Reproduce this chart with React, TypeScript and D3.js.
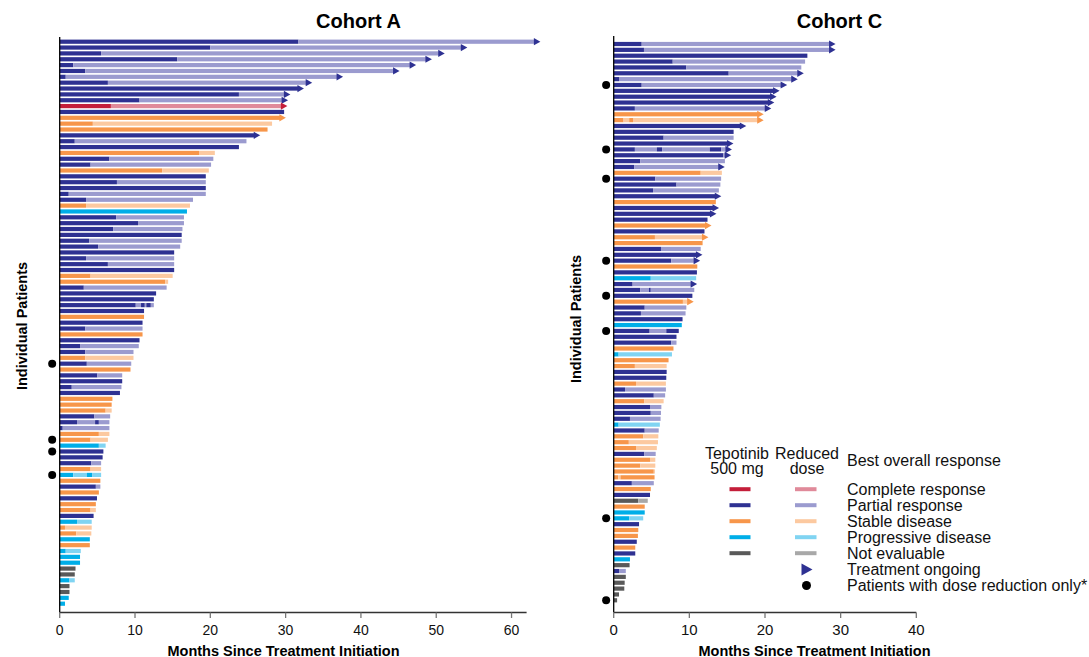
import React from 'react';
import * as d3 from 'd3';

const W = 1089;
const H = 657;
const FONT = "Arial, 'Liberation Sans', Helvetica, sans-serif";

// [full dose, reduced dose]
const responseColors: Record<string, [string, string]> = {
  CR: ['#c41e3a', '#e08a9a'],
  PR: ['#2e3192', '#9b9bcf'],
  SD: ['#f7964a', '#fcc9a0'],
  PD: ['#00aee8', '#80d4f2'],
  NE: ['#595959', '#a8a8a8'],
};

const legendCategories = ['CR', 'PR', 'SD', 'PD', 'NE'];
const legendLabels = [
  'Complete response',
  'Partial response',
  'Stable disease',
  'Progressive disease',
  'Not evaluable',
];

// Cohort A: best overall response per patient (top to bottom)
const cohortAResponse = [
  'PR', 'PR', 'PR', 'PR', 'PR', 'PR', 'PR', 'PR', 'PR', 'PR',
  'PR', 'CR', 'PR', 'SD', 'SD', 'SD', 'PR', 'PR', 'PR', 'SD',
  'PR', 'PR', 'SD', 'PR', 'PR', 'PR', 'PR', 'PR', 'SD', 'PD',
  'PR', 'PR', 'PR', 'PR', 'PR', 'PR', 'PR', 'PR', 'PR', 'PR',
  'SD', 'SD', 'PR', 'PR', 'PR', 'PR', 'PR', 'SD', 'PR', 'PR',
  'SD', 'PR', 'PR', 'PR', 'SD', 'PR', 'SD', 'PR', 'PR', 'PR',
  'PR', 'SD', 'SD', 'SD', 'PR', 'PR', 'PR', 'SD', 'SD', 'PD',
  'PR', 'PR', 'PR', 'SD', 'PD', 'SD', 'PR', 'SD', 'PR', 'SD',
  'SD', 'PR', 'PD', 'SD', 'SD', 'PD', 'SD', 'PD', 'PD', 'PD',
  'NE', 'NE', 'PD', 'NE', 'NE', 'PD', 'PD',
];

// months at which dose switches: full -> reduced -> full ... ; last value = end of treatment
const cohortASegments = [
  [31.7, 63.1], [20.0, 53.4], [5.5, 50.4], [15.6, 48.7], [1.8, 46.6],
  [3.4, 44.4], [0.8, 36.9], [6.4, 32.8], [31.7], [23.8, 29.9],
  [10.6, 29.6], [6.8, 29.5], [29.8], [29.3], [4.4, 28.2],
  [27.6], [25.9], [2.0, 24.8], [23.8], [18.5, 20.6],
  [6.6, 20.4], [4.1, 20.1], [13.6, 19.8], [19.4], [7.6, 19.4],
  [19.4], [1.2, 19.4], [3.5, 17.7], [3.5, 17.3], [16.9],
  [7.5, 16.5], [10.4, 16.5], [7.1, 16.3], [16.2], [3.9, 16.2],
  [5.1, 16.0], [15.2], [3.5, 15.2], [6.4, 15.2], [15.2],
  [4.1, 15.0], [14.0, 14.4], [3.2, 14.2], [12.8], [12.5],
  [10.1, 10.8, 11.3, 11.5, 12.1, 12.5], [11.2], [11.2], [11.0], [3.4, 11.0],
  [11.0], [10.6], [2.7, 10.5], [3.4, 9.8], [3.4, 9.8],
  [3.6, 9.5], [9.4], [5.0, 8.3], [8.3], [1.6, 8.2],
  [8.0], [7.0], [6.9], [6.1, 6.9], [4.6, 6.7],
  [2.3, 4.7, 5.2, 6.6], [0.4, 6.6], [5.2, 6.6], [4.1, 6.4], [5.2, 6.1],
  [5.8], [5.7], [4.2, 5.5], [4.1, 5.5], [1.8, 3.6, 4.3, 5.5],
  [5.4], [4.8, 5.4], [5.2], [4.95], [4.8],
  [4.1, 4.8], [4.5], [2.3, 4.25], [0.7, 4.25], [2.2, 4.2],
  [4.0], [4.0], [0.8, 2.8], [2.7], [2.7],
  [2.1], [2.0], [1.3, 2.0], [1.3], [1.3],
  [1.2], [0.7],
];

const cohortAOngoing = [1, 2, 3, 4, 5, 6, 7, 8, 9, 10, 11, 12, 14, 17];
const cohortADoseReductionOnly = [56, 69, 71, 75];
const cohortATicks = [0, 10, 20, 30, 40, 50, 60];

// Cohort C
const cohortCResponse = [
  'PR', 'PR', 'PR', 'PR', 'PR', 'PR', 'PR', 'PR', 'PR', 'PR',
  'PR', 'PR', 'SD', 'SD', 'PR', 'PR', 'PR', 'PR', 'PR', 'PR',
  'PR', 'PR', 'SD', 'PR', 'PR', 'PR', 'PR', 'SD', 'PR', 'PR',
  'PR', 'SD', 'PR', 'SD', 'SD', 'PR', 'PR', 'PR', 'SD', 'PR',
  'PD', 'PR', 'PR', 'PR', 'SD', 'PR', 'PR', 'PR', 'PD', 'PR',
  'PR', 'PR', 'SD', 'PD', 'SD', 'SD', 'PR', 'PR', 'SD', 'PR',
  'PR', 'SD', 'PR', 'PR', 'PR', 'PD', 'PR', 'SD', 'SD', 'SD',
  'PR', 'SD', 'SD', 'SD', 'SD', 'PR', 'SD', 'PR', 'NE', 'SD',
  'PD', 'PD', 'PR', 'SD', 'SD', 'PR', 'SD', 'PR', 'PD', 'NE',
  'PR', 'NE', 'NE', 'NE', 'NE', 'NE',
];

const cohortCSegments = [
  [3.7, 28.6], [4.0, 28.6], [25.6], [7.8, 25.3], [9.6, 24.8],
  [15.2, 24.4], [0.7, 23.6], [3.7, 22.2], [21.2], [20.8],
  [20.5], [2.8, 20.1], [19.1], [1.3, 2.05, 2.55, 19.1], [16.8],
  [15.85], [6.6, 15.85], [15.1], [2.8, 5.7, 6.4, 12.7, 14.2, 14.9], [14.5, 14.8],
  [3.5, 14.7], [2.7, 13.95], [11.5, 14.3], [5.5, 14.2], [8.3, 14.1],
  [5.2, 13.9], [13.5], [13.5], [13.2], [12.85],
  [12.4], [12.2], [12.0], [5.45, 11.8], [11.75],
  [6.25, 11.5], [11.0], [7.6, 10.7], [11.05], [11.0],
  [4.9, 10.9], [2.5, 10.3], [3.5, 4.66, 4.9, 10.65], [10.4], [9.15, 9.85],
  [4.1, 9.6], [3.6, 9.5], [9.1], [9.0], [4.75, 6.95, 8.6],
  [8.3], [7.6, 8.3], [7.9], [0.65, 7.7], [7.25],
  [2.8, 7.0], [7.0], [6.95], [2.95, 6.9], [1.5, 6.9],
  [5.3, 6.8], [4.05, 6.6], [4.8, 6.3], [4.9, 6.25], [2.15, 6.2],
  [0.65, 6.1], [4.1, 5.95], [3.9, 5.9], [2.0, 5.85], [2.95, 5.7],
  [4.05, 5.55], [4.8, 5.5], [3.5, 5.5], [5.3, 5.45], [0.6, 0.9, 5.4],
  [2.4, 5.3], [4.9], [4.8], [3.25, 4.5], [4.1],
  [4.1], [2.05, 3.9], [3.35], [3.25], [3.2],
  [3.05], [2.85], [2.85], [2.15], [2.1],
  [0.7, 1.6], [1.6], [1.45], [1.4], [0.7],
  [0.45],
];

const cohortCOngoing = [1, 2, 6, 7, 8, 9, 10, 11, 12, 13, 14, 15, 18, 19, 20, 22, 27, 29, 30, 32, 34, 37, 38, 42, 45];
const cohortCDoseReductionOnly = [8, 19, 24, 38, 44, 50, 82, 96];
const cohortCTicks = [0, 10, 20, 30, 40];

type PanelProps = {
  title: string;
  titleX: number;
  axisTitleX: number;
  responses: string[];
  segments: number[][];
  ongoing: number[];
  doseReduced: number[];
  ticks: number[];
  xMax: number;
  xRange: [number, number];
  rowRange: [number, number];
  axisTop: number;
  axisY: number;
  ylabelX: number;
  ylabelY: number;
  tickFont: number;
};

function SwimmerPanel(p: PanelProps) {
  const x = d3.scaleLinear().domain([0, p.xMax]).range(p.xRange);
  const y = d3
    .scalePoint<number>()
    .domain(d3.range(p.responses.length))
    .range(p.rowRange);
  const barH = 4.2;
  const x0 = x(0);
  const xEnd = p.xRange[1];

  return (
    <g>
      <text
        x={p.titleX}
        y={27.5}
        textAnchor="middle"
        fontSize={20}
        fontWeight="bold"
        fontFamily={FONT}
      >
        {p.title}
      </text>

      {p.responses.map((r, i) => {
        const cy = y(i) as number;
        const breaks = p.segments[i];
        const cols = responseColors[r];
        const end = breaks[breaks.length - 1];
        return (
          <g key={i}>
            {breaks.map((b, k) => {
              const start = k === 0 ? 0 : breaks[k - 1];
              return (
                <rect
                  key={k}
                  x={x(start)}
                  y={cy - barH / 2}
                  width={Math.max(0, x(b) - x(start))}
                  height={barH}
                  fill={cols[k % 2]}
                />
              );
            })}
            {p.ongoing.includes(i + 1) && (
              <path
                d={`M${x(end) - 1},${cy - 3.6}L${x(end) + 5.5},${cy}L${x(end) - 1},${cy + 3.6}Z`}
                fill={cols[0]}
              />
            )}
            {p.doseReduced.includes(i + 1) && (
              <circle cx={x(-1)} cy={cy} r={4} fill="#000" />
            )}
          </g>
        );
      })}

      {/* y axis line */}
      <line x1={x0} x2={x0} y1={p.axisTop} y2={p.axisY} stroke="#000" strokeWidth={1.3} />
      {/* x axis */}
      <line x1={x0} x2={xEnd} y1={p.axisY} y2={p.axisY} stroke="#333" strokeWidth={1.3} />
      {p.ticks.map((t) => (
        <g key={t}>
          <line x1={x(t)} x2={x(t)} y1={p.axisY} y2={p.axisY + 5.5} stroke="#777" strokeWidth={1.3} />
          <text
            x={x(t)}
            y={635}
            textAnchor="middle"
            fontSize={p.tickFont}
            fontFamily={FONT}
            fill="#111"
          >
            {t}
          </text>
        </g>
      ))}
      <text
        x={p.axisTitleX}
        y={655.5}
        textAnchor="middle"
        fontSize={14.5}
        fontWeight="bold"
        fontFamily={FONT}
      >
        Months Since Treatment Initiation
      </text>
      <text
        transform={`translate(${p.ylabelX},${p.ylabelY}) rotate(-90)`}
        textAnchor="middle"
        fontSize={14.5}
        fontWeight="bold"
        fontFamily={FONT}
      >
        Individual Patients
      </text>
    </g>
  );
}

function Legend() {
  const ly = d3
    .scalePoint<number>()
    .domain(d3.range(legendCategories.length + 2))
    .range([495, 591]);
  return (
    <g fontFamily={FONT} fontSize={16} fill="#111">
      <text x={737} y={458.5} textAnchor="middle">Tepotinib</text>
      <text x={737} y={473.5} textAnchor="middle">500 mg</text>
      <text x={807} y={458.5} textAnchor="middle">Reduced</text>
      <text x={807} y={473.5} textAnchor="middle">dose</text>
      <text x={847} y={466}>Best overall response</text>
      {legendCategories.map((c, i) => {
        const base = ly(i) as number;
        return (
          <g key={c}>
            <rect x={729.5} y={base - 7.8} width={21} height={4} fill={responseColors[c][0]} />
            <rect x={795} y={base - 7.8} width={21.5} height={4} fill={responseColors[c][1]} />
            <text x={847} y={base}>{legendLabels[i]}</text>
          </g>
        );
      })}
      <path
        d={`M${801.5},${(ly(5) as number) - 11.5}L${812.5},${(ly(5) as number) - 5.5}L${801.5},${(ly(5) as number) + 0.5}Z`}
        fill={responseColors.PR[0]}
      />
      <text x={847} y={ly(5) as number}>Treatment ongoing</text>
      <circle cx={806.5} cy={(ly(6) as number) - 5.5} r={4.5} fill="#000" />
      <text x={847} y={ly(6) as number}>Patients with dose reduction only*</text>
    </g>
  );
}

export default function App() {
  return (
    <svg
      width={W}
      height={H}
      viewBox={`0 0 ${W} ${H}`}
      style={{ position: 'absolute', left: 0, top: 0, background: '#fff' }}
    >
      <SwimmerPanel
        title="Cohort A"
        titleX={358.5}
        axisTitleX={283.5}
        responses={cohortAResponse}
        segments={cohortASegments}
        ongoing={cohortAOngoing}
        doseReduced={cohortADoseReductionOnly}
        ticks={cohortATicks}
        xMax={62}
        xRange={[59.7, 526.6]}
        rowRange={[41.7, 603.7]}
        axisTop={37}
        axisY={612.5}
        ylabelX={26.5}
        ylabelY={326}
        tickFont={14}
      />
      <SwimmerPanel
        title="Cohort C"
        titleX={839.5}
        axisTitleX={814.5}
        responses={cohortCResponse}
        segments={cohortCSegments}
        ongoing={cohortCOngoing}
        doseReduced={cohortCDoseReductionOnly}
        ticks={cohortCTicks}
        xMax={40}
        xRange={[613.7, 916.3]}
        rowRange={[44, 600.3]}
        axisTop={36}
        axisY={612.5}
        ylabelX={581}
        ylabelY={319}
        tickFont={15}
      />
      <Legend />
    </svg>
  );
}
